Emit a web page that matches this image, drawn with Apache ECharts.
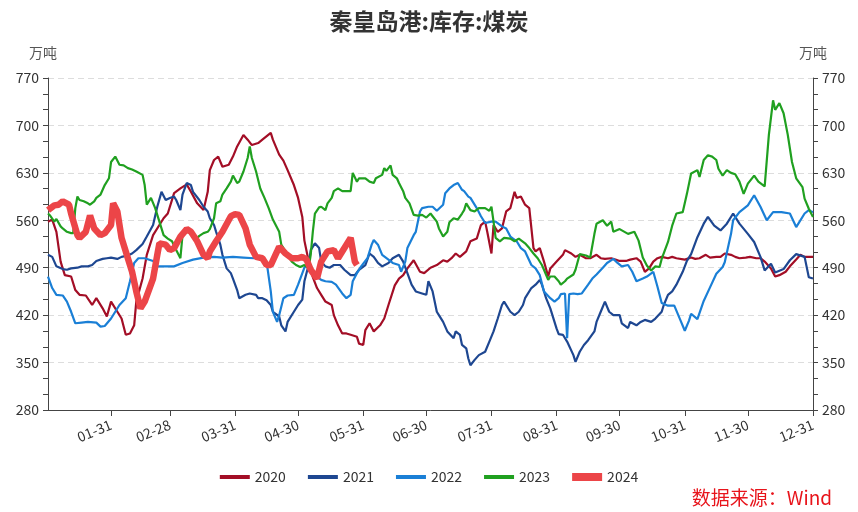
<!DOCTYPE html>
<html><head><meta charset="utf-8">
<script src="https://cdn.jsdelivr.net/npm/echarts@6/dist/echarts.min.js"></script>
<style>html,body{margin:0;padding:0;background:#fff}#c{width:858px;height:512px}</style>
</head><body><div id="c"></div><script>
// calendar categories (MM-DD), non-leap year
const monthDays = [31,28,31,30,31,30,31,31,30,31,30,31];
const categories = [];
const monthEnds = new Set();
monthDays.forEach((n, m) => {
  for (let d = 1; d <= n; d++) {
    categories.push(String(m + 1).padStart(2, '0') + '-' + String(d).padStart(2, '0'));
    if (d === n) monthEnds.add(categories.length - 1);
  }
});
const yTicks = {min: 280, max: 770, interval: 70};
const seriesNames = ['2020', '2021', '2022', '2023', '2024'];
const seriesColors = ['#A30E26', '#1E4791', '#1A7FD6', '#20A020', '#EC4548'];

// day-of-year index and stock (万吨)
const d2020 = [0,2,4,6,8,11,13,15,18,21,23,26,28,30,33,35,37,39,41,42,45,47,50,53,55,57,60,63,66,68,71,74,76,77,79,81,83,86,88,90,93,95,97,100,102,106,107,110,112,114,117,119,121,122,124,126,128,130,132,135,136,138,140,142,144,147,148,150,151,153,155,158,160,162,165,167,169,171,174,177,179,182,185,188,190,192,194,196,199,201,204,206,208,209,211,212,214,216,218,220,222,223,225,227,229,231,232,234,236,238,239,242,245,246,249,251,253,256,258,261,263,265,268,270,272,275,277,280,282,284,286,288,290,292,295,297,299,303,306,308,310,313,315,318,320,322,325,327,329,332,334,337,339,341,344,346,348,351,353,356,358,360,364];
const v2020 = [558,561,543,499,479,477,457,450,449,435,445,430,418,440,425,415,391,393,405,440,474,509,538,553,563,570,600,607,613,602,585,575,602,634,649,654,639,642,654,669,686,679,671,674,679,689,679,657,648,634,612,593,565,530,500,476,460,450,440,435,420,405,393,393,391,388,378,376,398,408,396,405,415,435,464,474,479,489,501,484,482,490,494,501,499,504,511,506,514,529,533,553,558,543,511,553,543,548,573,578,602,593,595,583,578,519,514,519,499,477,489,499,509,516,511,506,509,504,504,509,504,503,504,502,500,500,502,504,499,484,489,499,504,506,504,506,504,502,505,503,504,509,505,506,506,511,509,506,504,505,506,504,504,499,489,477,479,484,492,502,509,506,506];

const d2021 = [0,2,4,7,9,11,14,16,19,21,23,26,28,30,33,35,38,40,42,45,47,50,52,54,56,58,60,61,63,64,66,68,69,72,74,76,77,79,80,82,83,85,87,88,90,91,94,96,99,100,102,104,106,107,110,111,113,114,117,119,121,122,124,125,127,129,130,132,134,136,139,141,144,146,148,151,153,155,157,159,162,164,167,169,171,173,175,178,180,181,183,185,186,188,190,193,194,196,197,199,200,201,203,205,208,210,212,214,216,217,220,222,224,226,227,230,232,234,235,237,239,242,243,245,247,250,251,253,255,257,260,261,263,265,267,269,272,273,276,277,280,282,284,287,289,292,293,295,297,299,302,304,306,309,312,314,317,320,323,326,329,333,336,339,341,344,346,350,353,356,360,362,364];
const v2021 = [509,506,492,488,487,489,490,492,492,494,500,503,504,505,503,506,508,511,516,525,536,553,580,602,590,593,595,590,575,598,615,612,602,590,580,573,563,553,543,524,509,489,482,474,457,445,450,452,450,445,445,442,435,425,418,405,396,410,425,435,443,470,494,516,526,519,499,492,490,494,494,487,479,479,487,494,511,506,497,492,497,504,509,499,482,465,455,452,450,470,455,425,420,410,396,386,396,391,376,371,356,346,354,361,366,381,396,415,435,440,425,420,425,435,445,460,465,472,465,445,430,400,392,391,381,361,351,366,376,383,396,410,425,440,425,420,420,408,401,410,405,410,413,410,415,425,435,450,455,465,484,500,510,535,555,565,552,545,555,570,555,540,528,506,486,496,483,488,501,510,506,476,474];

const d2022 = [0,2,4,7,9,11,13,16,19,23,25,27,30,32,34,37,39,41,43,46,50,52,56,60,64,69,74,79,83,88,93,98,102,104,106,107,109,110,112,114,117,119,122,123,125,128,130,132,135,137,140,142,144,145,147,149,152,154,155,157,159,162,164,167,168,170,171,174,175,177,178,181,183,185,188,189,191,193,195,197,198,200,201,204,206,208,211,213,216,218,220,223,225,227,230,232,234,236,239,241,243,244,246,247,248,250,252,254,257,259,261,264,266,269,271,273,276,278,280,283,285,288,290,292,295,298,301,303,305,306,309,312,315,318,321,322,325,326,329,333,336,339,342,345,349,353,356,360,362,364];
const v2022 = [477,460,450,449,440,425,408,409,410,409,403,404,415,425,435,445,470,497,504,504,500,492,492,492,497,502,505,506,505,506,505,504,504,499,455,425,410,420,445,449,450,465,490,494,487,477,472,470,469,465,452,445,450,470,482,492,504,524,531,524,509,502,497,494,484,499,519,538,543,573,578,580,580,574,583,600,607,612,615,605,603,595,593,578,566,556,558,558,551,548,536,529,519,514,494,489,479,455,445,440,445,451,452,386,451,452,451,452,465,474,480,490,497,503,497,492,494,484,470,474,477,484,462,438,434,434,412,397,412,422,414,441,461,481,491,498,540,560,572,582,597,580,560,572,572,570,550,570,575,572];

const d2023 = [0,1,3,4,6,7,9,11,12,13,14,15,17,19,20,22,23,25,27,29,30,32,34,36,38,40,42,45,46,47,49,51,53,55,57,59,61,63,64,66,68,70,72,74,76,77,79,80,82,83,85,87,88,90,91,93,95,96,97,99,101,103,105,107,110,111,114,116,118,120,122,124,125,126,127,129,130,132,133,135,136,138,140,142,144,145,147,148,151,153,155,156,159,160,161,163,164,166,167,169,170,172,174,176,178,180,182,183,185,186,188,190,191,193,195,197,198,199,201,203,205,208,210,211,212,213,215,217,220,222,224,227,229,231,233,235,236,238,239,241,243,244,246,247,250,251,253,256,258,260,261,264,266,268,269,272,276,279,281,283,285,287,289,291,292,295,297,299,302,304,306,309,310,312,314,316,318,319,321,323,325,327,329,331,333,336,338,341,343,345,346,348,350,352,354,356,359,360,362,364];
const v2023 = [570,567,558,562,551,548,543,541,541,578,595,590,588,585,583,588,593,598,612,622,646,654,642,641,637,635,632,627,612,583,593,578,558,538,533,529,516,504,538,543,541,531,537,541,543,547,563,585,588,598,607,617,626,615,617,632,652,669,652,632,607,593,578,561,543,524,509,499,494,491,494,489,509,543,570,579,580,575,585,593,603,607,603,603,603,630,617,622,622,617,615,622,627,637,633,641,627,622,615,603,593,585,568,567,568,564,570,566,558,548,536,543,557,563,561,570,575,585,575,573,578,578,574,580,558,534,529,534,533,529,533,526,519,511,504,494,487,472,477,477,470,465,470,474,480,487,510,508,505,540,555,560,552,558,543,547,540,543,530,505,493,486,492,491,503,528,552,570,572,599,629,634,624,649,656,654,649,636,626,634,630,628,617,599,614,626,617,610,686,737,723,733,718,686,646,622,609,592,577,565];

const d2024 = [0,3,5,7,10,11,14,15,18,20,22,25,27,30,31,33,35,38,40,42,44,46,50,52,53,56,58,60,63,66,68,71,74,76,77,80,83,87,89,91,94,96,99,102,104,106,109,110,113,116,119,121,123,125,128,130,133,136,138,140,144,146,147];
const v2024 = [575,582,583,588,583,570,538,534,543,567,548,538,541,553,585,573,534,504,484,455,430,440,474,509,526,524,516,519,536,547,543,529,509,504,514,529,543,566,569,568,548,524,506,504,494,494,514,521,511,504,504,506,502,487,474,499,514,516,504,514,534,499,494];

const dayLists = [d2020, d2021, d2022, d2023, d2024];
const valLists = [v2020, v2021, v2022, v2023, v2024];

const chart = echarts.init(document.getElementById('c'), null, {renderer: 'canvas'});
const font = 'Noto Sans CJK SC';
const yAxisBase = {
  type: 'value', min: yTicks.min, max: yTicks.max, interval: yTicks.interval,
  name: '万吨', nameGap: 18,
  nameTextStyle: {color: '#555', fontSize: 14, fontFamily: font},
  axisLine: {show: true, lineStyle: {color: '#444', width: 1}},
  axisTick: {show: true, length: 5, lineStyle: {color: '#444'}},
  minorTick: {show: true, splitNumber: 3, length: 5, lineStyle: {color: '#444'}},
  axisLabel: {color: '#333', fontSize: 14, fontFamily: font, margin: 9}
};
chart.setOption({
  animation: false,
  backgroundColor: '#fff',
  title: {text: '秦皇岛港:库存:煤炭', left: 'center', top: 5,
    textStyle: {fontSize: 23, fontWeight: 'bold', color: '#333', fontFamily: font}},
  grid: {left: 48, right: 45, top: 78, bottom: 102, containLabel: false},
  legend: {bottom: 23, left: 'center', itemWidth: 30, itemHeight: 14, itemGap: 22,
    textStyle: {fontSize: 14, color: '#333', fontFamily: font},
    data: seriesNames.map((n) => ({name: n,
      icon: n === '2024' ? 'path://M0,0H30V8H0Z' : 'path://M0,0H30V4H0Z'}))},
  xAxis: {
    type: 'category', data: categories, boundaryGap: false,
    axisLine: {lineStyle: {color: '#444'}},
    axisTick: {show: true, length: 6, interval: (i) => monthEnds.has(i), lineStyle: {color: '#444'}},
    axisLabel: {interval: (i) => monthEnds.has(i), rotate: 22, color: '#333', fontSize: 14, fontFamily: font, margin: 14},
    splitLine: {show: false}
  },
  yAxis: [
    Object.assign({}, yAxisBase, {position: 'left',
      nameTextStyle: Object.assign({}, yAxisBase.nameTextStyle, {padding: [0, 10, 0, 0]}),
      splitLine: {show: true, lineStyle: {color: '#ddd', type: [6, 4]}}}),
    Object.assign({}, yAxisBase, {position: 'right',
      nameTextStyle: Object.assign({}, yAxisBase.nameTextStyle, {padding: [0, 0, 0, 0]}),
      splitLine: {show: false}})
  ],
  graphic: [{type: 'text', right: 26, bottom: 5,
    style: {text: '数据来源：Wind', fill: '#E8141B', fontSize: 19, fontFamily: font}}],
  series: seriesNames.map((name, k) => ({
    name: name, type: 'line', yAxisIndex: 0, symbol: 'none', smooth: false,
    color: seriesColors[k],
    lineStyle: {width: name === '2024' ? 6.5 : 2.2, color: seriesColors[k]},
    data: dayLists[k].map((d, i) => [d, valLists[k][i]])
  }))
});
</script></body></html>
